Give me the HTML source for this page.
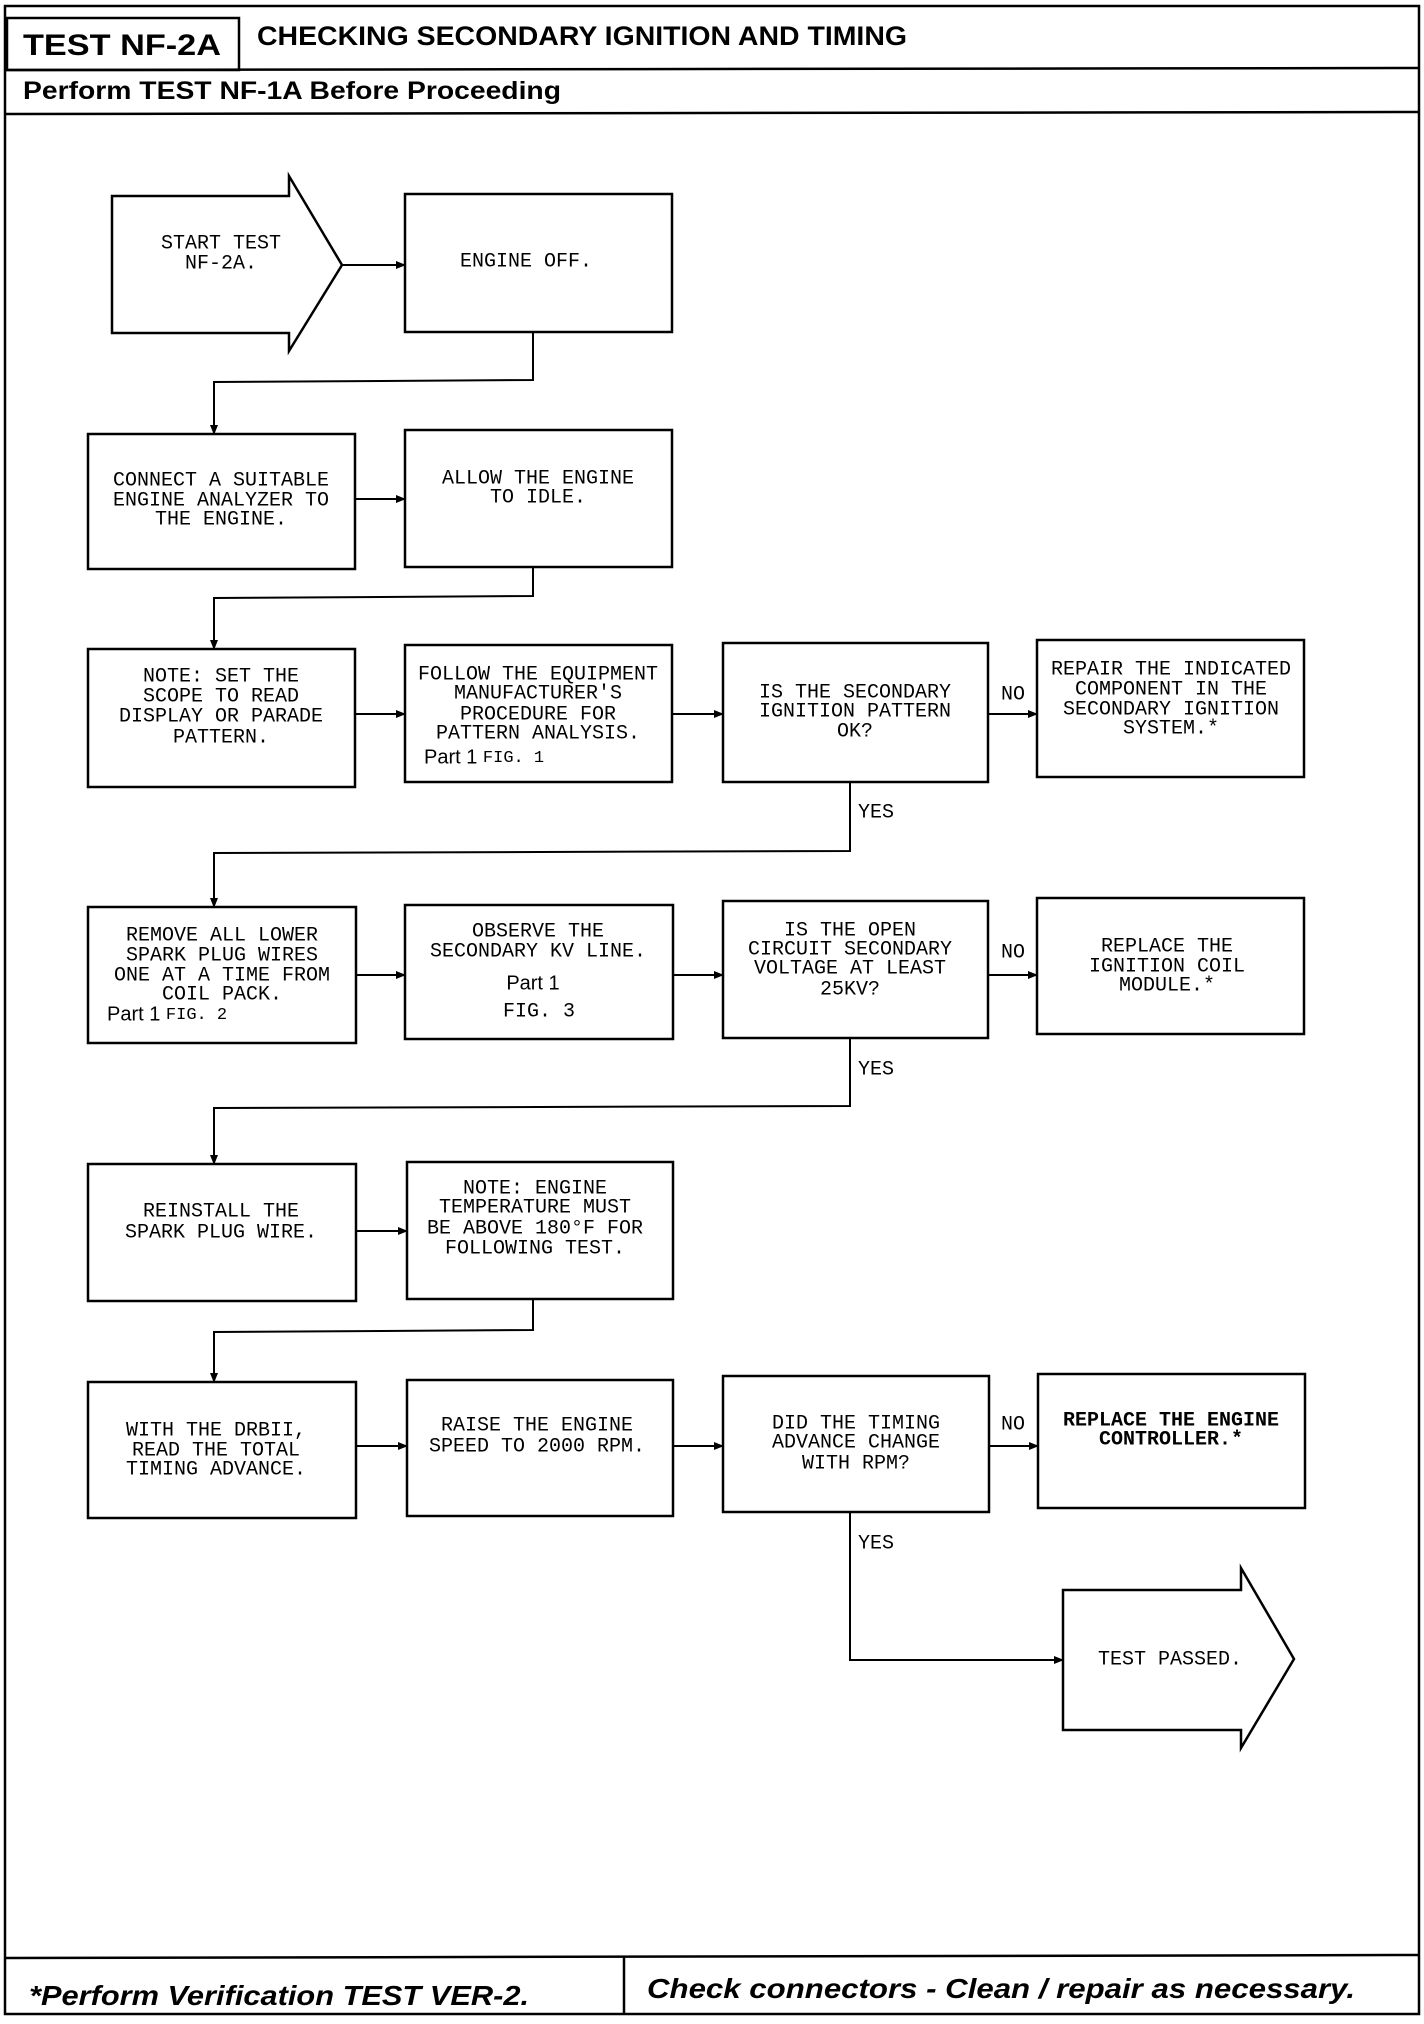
<!DOCTYPE html>
<html><head><meta charset="utf-8"><style>
html,body{margin:0;padding:0;background:#fff;}
svg{display:block;}
.m{font-family:"Liberation Mono",monospace;font-size:20px;fill:#000;}
.s{font-family:"Liberation Sans",sans-serif;font-size:20px;fill:#000;}
.b{font-family:"Liberation Sans",sans-serif;font-weight:bold;fill:#000;}
</style></head><body>
<svg width="1424" height="2024" viewBox="0 0 1424 2024" xmlns="http://www.w3.org/2000/svg">
<defs><marker id="a" markerWidth="10" markerHeight="8" refX="9" refY="4" orient="auto" markerUnits="userSpaceOnUse"><path d="M0,0 L10,4 L0,8 z" fill="#000"/></marker></defs>
<g fill="none" stroke="#000" stroke-width="2.5">
<rect x="5" y="6" width="1414" height="2008"/>
<rect x="7" y="18" width="232" height="52"/>
<line x1="5" y1="70" x2="1419" y2="68"/>
<line x1="5" y1="114" x2="1419" y2="112"/>
<line x1="5" y1="1958" x2="1419" y2="1955"/>
<line x1="624" y1="1957" x2="624" y2="2014"/>
</g>
<text class="b" x="23" y="55" font-size="30" textLength="198" lengthAdjust="spacingAndGlyphs">TEST NF-2A</text>
<text class="b" x="257" y="45" font-size="27" textLength="650" lengthAdjust="spacingAndGlyphs">CHECKING SECONDARY IGNITION AND TIMING</text>
<text class="b" x="23" y="99" font-size="25" textLength="538" lengthAdjust="spacingAndGlyphs">Perform TEST NF-1A Before Proceeding</text>
<text class="b" x="29" y="2005" font-size="28" font-style="italic" textLength="500" lengthAdjust="spacingAndGlyphs">*Perform Verification TEST VER-2.</text>
<text class="b" x="647" y="1998" font-size="28" font-style="italic" textLength="708" lengthAdjust="spacingAndGlyphs">Check connectors - Clean / repair as necessary.</text>

<g fill="none" stroke="#000" stroke-width="2.5">
<path d="M112,196 L289,196 L289,176 L342,265 L289,351 L289,333 L112,333 Z"/>
<rect x="405" y="194" width="267" height="138"/>
<rect x="88" y="434" width="267" height="135"/>
<rect x="405" y="430" width="267" height="137"/>
<rect x="88" y="649" width="267" height="138"/>
<rect x="405" y="645" width="267" height="137"/>
<rect x="723" y="643" width="265" height="139"/>
<rect x="1037" y="640" width="267" height="137"/>
<rect x="88" y="907" width="268" height="136"/>
<rect x="405" y="905" width="268" height="134"/>
<rect x="723" y="901" width="265" height="137"/>
<rect x="1037" y="898" width="267" height="136"/>
<rect x="88" y="1164" width="268" height="137"/>
<rect x="407" y="1162" width="266" height="137"/>
<rect x="88" y="1382" width="268" height="136"/>
<rect x="407" y="1380" width="266" height="136"/>
<rect x="723" y="1376" width="266" height="136"/>
<rect x="1038" y="1374" width="267" height="134"/>
<path d="M1063,1590 L1241,1590 L1241,1568 L1294,1659 L1241,1748 L1241,1730 L1063,1730 Z"/>
</g>
<g fill="none" stroke="#000" stroke-width="2" marker-end="url(#a)">
<line x1="342" y1="265" x2="405" y2="265"/>
<polyline points="533,332 533,380 214,382 214,434"/>
<line x1="355" y1="499" x2="405" y2="499"/>
<polyline points="533,567 533,596 214,598 214,649"/>
<line x1="355" y1="714" x2="405" y2="714"/>
<line x1="672" y1="714" x2="723" y2="714"/>
<line x1="988" y1="714" x2="1037" y2="714"/>
<polyline points="850,782 850,851 214,853 214,907"/>
<line x1="356" y1="975" x2="405" y2="975"/>
<line x1="673" y1="975" x2="723" y2="975"/>
<line x1="988" y1="975" x2="1037" y2="975"/>
<polyline points="850,1038 850,1106 214,1108 214,1164"/>
<line x1="356" y1="1231" x2="407" y2="1231"/>
<polyline points="533,1299 533,1330 214,1332 214,1382"/>
<line x1="356" y1="1446" x2="407" y2="1446"/>
<line x1="673" y1="1446" x2="723" y2="1446"/>
<line x1="989" y1="1446" x2="1038" y2="1446"/>
<polyline points="850,1512 850,1660 1063,1660"/>
</g>

<g class="m" text-anchor="middle" dominant-baseline="middle">
<text x="221" y="243">START TEST</text><text x="221" y="263">NF-2A.</text>
<text x="526" y="261">ENGINE OFF.</text>
<text x="221" y="480">CONNECT A SUITABLE</text><text x="221" y="500">ENGINE ANALYZER TO</text><text x="221" y="519">THE ENGINE.</text>
<text x="538" y="478">ALLOW THE ENGINE</text><text x="538" y="497">TO IDLE.</text>
<text x="221" y="676">NOTE: SET THE</text><text x="221" y="696">SCOPE TO READ</text><text x="221" y="716">DISPLAY OR PARADE</text><text x="221" y="737">PATTERN.</text>
<text x="538" y="674">FOLLOW THE EQUIPMENT</text><text x="538" y="693">MANUFACTURER'S</text><text x="538" y="714">PROCEDURE FOR</text><text x="538" y="733">PATTERN ANALYSIS.</text>
<text x="855" y="692">IS THE SECONDARY</text><text x="855" y="711">IGNITION PATTERN</text><text x="855" y="731">OK?</text>
<text x="1171" y="669">REPAIR THE INDICATED</text><text x="1171" y="689">COMPONENT IN THE</text><text x="1171" y="709">SECONDARY IGNITION</text><text x="1171" y="728">SYSTEM.*</text>
<text x="222" y="935">REMOVE ALL LOWER</text><text x="222" y="955">SPARK PLUG WIRES</text><text x="222" y="975">ONE AT A TIME FROM</text><text x="222" y="994">COIL PACK.</text>
<text x="538" y="931">OBSERVE THE</text><text x="538" y="951">SECONDARY KV LINE.</text>
<text x="539" y="1011">FIG. 3</text>
<text x="850" y="930">IS THE OPEN</text><text x="850" y="949">CIRCUIT SECONDARY</text><text x="850" y="968">VOLTAGE AT LEAST</text><text x="850" y="989">25KV?</text>
<text x="1167" y="946">REPLACE THE</text><text x="1167" y="966">IGNITION COIL</text><text x="1167" y="985">MODULE.*</text>
<text x="221" y="1211">REINSTALL THE</text><text x="221" y="1232">SPARK PLUG WIRE.</text>
<text x="535" y="1188">NOTE:  ENGINE</text><text x="535" y="1207">TEMPERATURE MUST</text><text x="535" y="1228">BE ABOVE 180°F FOR</text><text x="535" y="1248">FOLLOWING TEST.</text>
<text x="216" y="1430">WITH THE DRBII,</text><text x="216" y="1450">READ THE TOTAL</text><text x="216" y="1469">TIMING ADVANCE.</text>
<text x="537" y="1425">RAISE THE ENGINE</text><text x="537" y="1446">SPEED TO 2000 RPM.</text>
<text x="856" y="1423">DID THE TIMING</text><text x="856" y="1442">ADVANCE CHANGE</text><text x="856" y="1463">WITH RPM?</text>
<text x="1171" y="1420" font-weight="bold">REPLACE THE ENGINE</text><text x="1171" y="1439" font-weight="bold">CONTROLLER.*</text>
<text x="1170" y="1659">TEST PASSED.</text>
</g>
<g class="m" dominant-baseline="middle">
<text x="858" y="812">YES</text><text x="858" y="1069">YES</text><text x="858" y="1543">YES</text>
<text x="1001" y="694">NO</text><text x="1001" y="952">NO</text><text x="1001" y="1424">NO</text>
</g>
<g class="s" dominant-baseline="middle">
<text x="424" y="758">Part 1 <tspan class="m" style="font-size:17px">FIG. 1</tspan></text>
<text x="107" y="1015">Part 1 <tspan class="m" style="font-size:17px">FIG. 2</tspan></text>
<text x="533" y="984" text-anchor="middle">Part 1</text>
</g>
</svg>
</body></html>
